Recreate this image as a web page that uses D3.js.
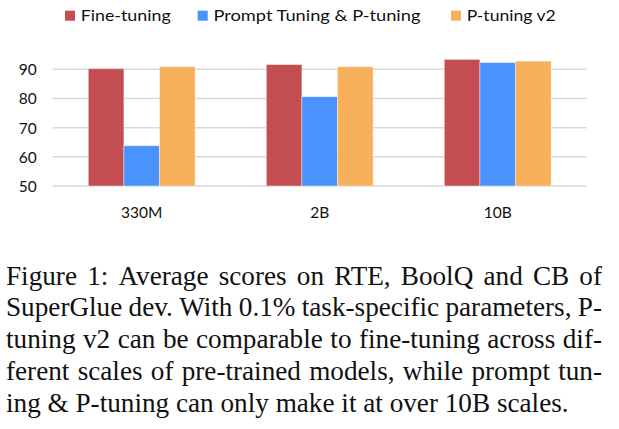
<!DOCTYPE html>
<html>
<head>
<meta charset="utf-8">
<script src="https://cdn.jsdelivr.net/npm/d3@7"></script>
<style>
  html, body { margin: 0; padding: 0; background: #fff; }
  svg { display: block; }
</style>
</head>
<body>
<svg id="chart" width="619" height="429"></svg>
<script>
const categories = ["330M", "2B", "10B"];
const seriesNames = ["Fine-tuning", "Prompt Tuning & P-tuning", "P-tuning v2"];
const fineTuning = [90.2, 91.6, 93.4];
const promptTuning = [63.8, 80.6, 92.3];
const pTuningV2 = [90.9, 90.9, 92.8];
const yTicks = [50, 60, 70, 80, 90];
const colors = ["#C34D50", "#4A93FF", "#F8B05A"];
const captionLines = [
  "Figure 1:  Average scores on RTE, BoolQ and CB of",
  "SuperGlue dev. With 0.1% task-specific parameters, P-",
  "tuning v2 can be comparable to fine-tuning across dif-",
  "ferent scales of pre-trained models, while prompt tun-",
  "ing & P-tuning can only make it at over 10B scales."
];

const series = [fineTuning, promptTuning, pTuningV2];
const svg = d3.select("#chart");
const sansFont = "Lato, 'Open Sans', sans-serif";

const x0 = d3.scaleBand().domain(categories).range([52.7, 586.7]).paddingInner(0.4).paddingOuter(0.2);
const x1 = d3.scaleBand().domain(d3.range(seriesNames.length)).range([0, x0.bandwidth()]);
const y = d3.scaleLinear().domain([50, 90]).range([186, 69.3]);

// gridlines
svg.append("g").selectAll("line").data(yTicks).join("line")
  .attr("x1", 52.7).attr("x2", 586.7)
  .attr("y1", d => y(d)).attr("y2", d => y(d))
  .attr("stroke", "#d9d9d9").attr("stroke-width", 1.5);

// y axis labels
const yAxis = d3.axisLeft(y).tickValues(yTicks).tickSize(0).tickPadding(0);
const yg = svg.append("g").attr("transform", "translate(36.7,0)").call(yAxis);
yg.select(".domain").remove();
yg.selectAll("text").attr("font-family", sansFont).attr("font-size", 15.5).attr("fill", "#111").attr("dy", "0.35em");

// bars
const groups = svg.append("g").selectAll("g").data(categories).join("g")
  .attr("transform", d => `translate(${x0(d)},0)`);
groups.selectAll("rect").data((c, ci) => series.map((s, si) => ({si, v: s[ci]}))).join("rect")
  .attr("x", d => x1(d.si))
  .attr("width", x1.bandwidth())
  .attr("y", d => y(d.v))
  .attr("height", d => y(50) - y(d.v))
  .attr("fill", d => colors[d.si])
  .attr("stroke", "rgba(255,255,255,0.5)").attr("stroke-width", 0.8);

// x axis labels
const xAxis = d3.axisBottom(x0).tickSize(0).tickPadding(0);
const xg = svg.append("g").attr("transform", "translate(0,218.3)").call(xAxis);
xg.select(".domain").remove();
xg.selectAll("text").attr("font-family", sansFont).attr("font-size", 15.5).attr("fill", "#111").attr("dy", 0).attr("y", 0);

// legend
const legendX = [65, 197.7, 451];
const legendW = [90, 207, 89];
const lg = svg.append("g").selectAll("g").data(seriesNames).join("g")
  .attr("transform", (d, i) => `translate(${legendX[i]},0)`);
lg.append("rect").attr("x", 0).attr("y", 10.7).attr("width", 10).attr("height", 10)
  .attr("fill", (d, i) => colors[i]);
lg.append("text").attr("x", 15.7).attr("y", 20.7)
  .attr("font-family", sansFont).attr("font-size", 16).attr("fill", "#111")
  .attr("textLength", (d, i) => legendW[i]).attr("lengthAdjust", "spacingAndGlyphs")
  .text(d => d);

// caption (justified)
const capG = svg.append("g");
const serif = "'Liberation Serif', 'Times New Roman', serif";
const left = 6, right = 602;
const fs = 27.2;
captionLines.forEach((line, li) => {
  const yb = 284.5 + li * 31.75;
  const isLast = li === captionLines.length - 1;
  const words = line.split(/\s+/);
  const widths = words.map(w => {
    const p = capG.append("text").attr("font-family", serif).attr("font-size", fs).text(w);
    const wv = p.node().getComputedTextLength();
    p.remove();
    return wv;
  });
  const spaceW = fs * 0.25;
  const total = d3.sum(widths);
  const gap = isLast ? spaceW : (right - left - total) / (words.length - 1);
  const t = capG.append("text").attr("font-family", serif).attr("font-size", fs).attr("fill", "#111");
  let cx = left;
  words.forEach((w, wi) => {
    t.append("tspan").attr("x", cx).attr("y", yb).text(w);
    cx += widths[wi] + gap;
  });
});
</script>
</body>
</html>
